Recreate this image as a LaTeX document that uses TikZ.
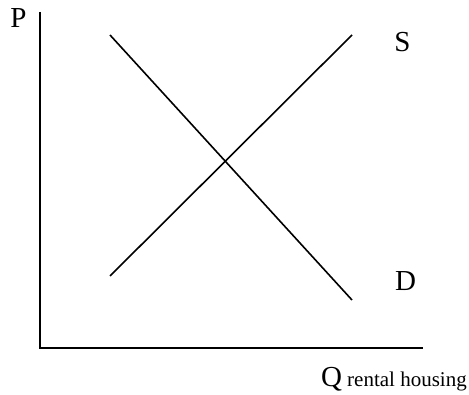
\documentclass[tikz,border=0pt]{standalone}
\usepackage{fontspec}
\setmainfont{Liberation Serif}
\begin{document}
\begin{tikzpicture}[x=1pt,y=-1pt,
  curve/.style={line width=1.6pt},
  axis/.style={line width=1.8pt},
  big/.style={inner sep=0pt,font=\fontsize{29}{30}\selectfont}]
\useasboundingbox (0,0) rectangle (469,395);
\coordinate (ytop) at (40,12);
\coordinate (origin) at (40,348);
\coordinate (xend) at (423,348);
\coordinate (d1) at (110,35);
\coordinate (d2) at (352,300);
\coordinate (s1) at (110,276);
\coordinate (s2) at (352,35);
\draw[axis] (ytop) -- (origin) -- (xend);
\draw[curve] (d1) -- (d2);
\draw[curve] (s1) -- (s2);
\node[big,anchor=base] (P) at (18.5,28) {P};
\node[big,anchor=base] (S) at (402.5,52) {S};
\node[big,anchor=base] (D) at (405.5,291) {D};
\node[big,anchor=base east] (Q) at (467,387) {Q{\fontsize{21}{22}\selectfont{} rental housing}};
\end{tikzpicture}
\end{document}
